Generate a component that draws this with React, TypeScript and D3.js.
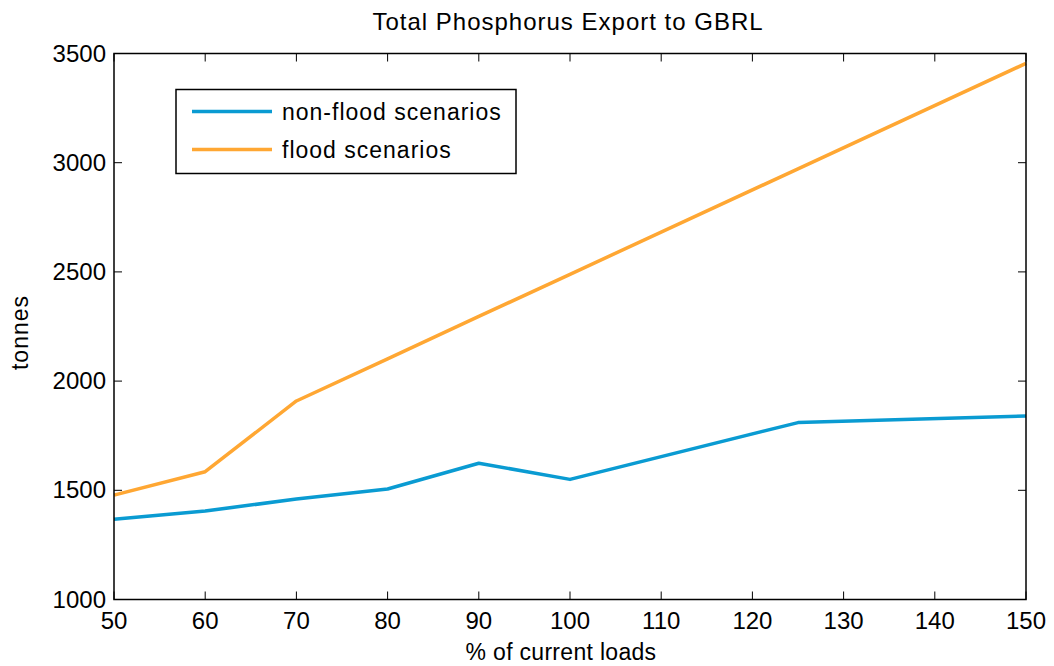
import React from "react";
import * as d3 from "d3";

const xValues = [50, 60, 70, 80, 90, 100, 125, 150];
const nonFlood = [1367, 1405, 1460, 1506, 1624, 1550, 1810, 1840];
const flood = [1478, 1585, 1909, 2102, 2296, 2489, 2972, 3455];
const xTicks = [50, 60, 70, 80, 90, 100, 110, 120, 130, 140, 150];
const yTicks = [1000, 1500, 2000, 2500, 3000, 3500];
const seriesNames = ["non-flood scenarios", "flood scenarios"];
const seriesColors = ["#0a9bd2", "#ffa733"];

const W = 1054, H = 666;
const L = 114, R = 1026, T = 53.5, B = 599.5;

export default function App() {
  const x = d3.scaleLinear().domain([50, 150]).range([L, R]);
  const y = d3.scaleLinear().domain([1000, 3500]).range([B, T]);
  const line = d3.line<number>().x((_, i) => x(xValues[i])).y((d) => y(d));
  const series = [nonFlood, flood];
  const font = "'Liberation Sans', Arial, sans-serif";
  return (
    <svg width={W} height={H} style={{ position: "absolute", left: 0, top: 0, fontFamily: font }}>
      <rect x={0} y={0} width={W} height={H} fill="#fff" />
      {series.map((s, i) => (
        <path key={i} d={line(s) || ""} fill="none" stroke={seriesColors[i]} strokeWidth={3.5} strokeLinejoin="round" />
      ))}
      <rect x={L} y={T} width={R - L} height={B - T} fill="none" stroke="#000" strokeWidth={1.5} />
      {xTicks.map((t) => (
        <g key={t}>
          <line x1={x(t)} x2={x(t)} y1={B} y2={B - 8} stroke="#000" strokeWidth={1} />
          <line x1={x(t)} x2={x(t)} y1={T} y2={T + 8} stroke="#000" strokeWidth={1} />
          <text x={x(t)} y={B + 29} textAnchor="middle" fontSize={24} fill="#000">{t}</text>
        </g>
      ))}
      {yTicks.map((t) => (
        <g key={t}>
          <line x1={L} x2={L + 8} y1={y(t)} y2={y(t)} stroke="#000" strokeWidth={1} />
          <line x1={R} x2={R - 8} y1={y(t)} y2={y(t)} stroke="#000" strokeWidth={1} />
          <text x={L - 8} y={y(t) + 8} textAnchor="end" fontSize={24} fill="#000">{t}</text>
        </g>
      ))}
      <text x={(L + R) / 2 - 2} y={30} textAnchor="middle" fontSize={24} letterSpacing={1} fill="#000">Total Phosphorus Export to GBRL</text>
      <text x={561} y={660} textAnchor="middle" fontSize={23} letterSpacing={0.3} fill="#000">% of current loads</text>
      <text transform={`translate(28,${(T + B) / 2 + 6}) rotate(-90)`} textAnchor="middle" fontSize={23} letterSpacing={1} fill="#000">tonnes</text>
      <rect x={176} y={89.5} width={340} height={84} fill="#fff" stroke="#000" strokeWidth={1.5} />
      {seriesNames.map((n, i) => (
        <g key={n}>
          <line x1={192} x2={272} y1={111.5 + i * 38} y2={111.5 + i * 38} stroke={seriesColors[i]} strokeWidth={3.5} />
          <text x={282} y={119.5 + i * 38} fontSize={23} letterSpacing={1} fill="#000">{n}</text>
        </g>
      ))}
    </svg>
  );
}
